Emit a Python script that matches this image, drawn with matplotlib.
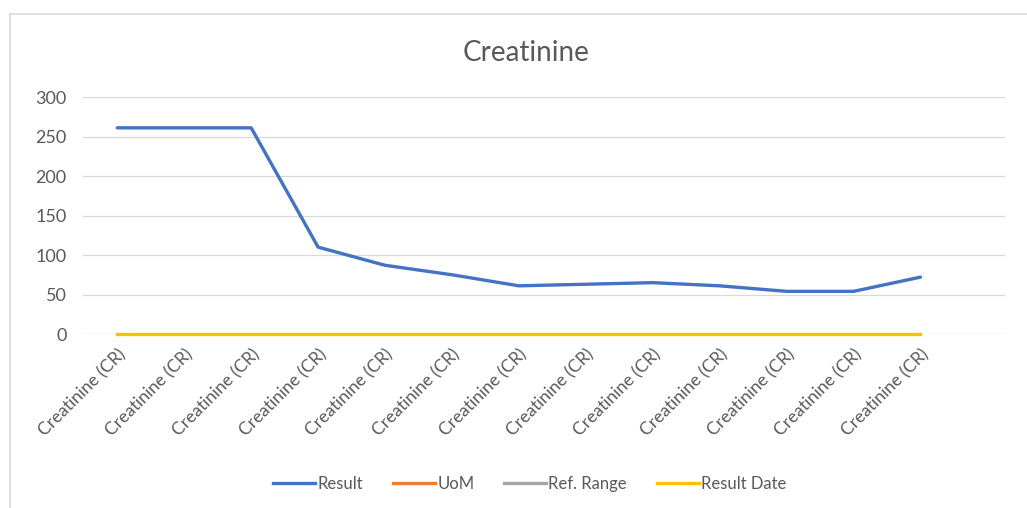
import numpy as np
import matplotlib.pyplot as plt
from matplotlib.lines import Line2D

plt.rcParams['font.family'] = ['Lato', 'DejaVu Sans']

categories = ['Creatinine (CR)'] * 13
result = [261, 261, 261, 110, 87, 75, 61, 63, 65, 61, 54, 54, 72]
uom = [np.nan] * 13
ref_range = [np.nan] * 13
result_date = [0] * 13

blue = '#4472C4'
orange = '#ED7D31'
gray = '#A5A5A5'
gold = '#FFC000'
text_col = '#595959'

fig = plt.figure(figsize=(10.27, 5.08), dpi=100)
ax = fig.add_axes([0.081, 0.3425, 0.898, 0.4665])

x = np.arange(len(categories))
ax.plot(x, result, color=blue, lw=2.4, label='Result', solid_capstyle='round')
ax.plot(x, uom, color=orange, lw=2.4, label='UoM')
ax.plot(x, ref_range, color=gray, lw=2.4, label='Ref. Range')
ax.plot(x, result_date, color=gold, lw=2.4, label='Result Date', zorder=3, clip_on=False)

ax.set_ylim(0, 300)
ax.set_yticks(range(0, 301, 50))
ax.set_xlim(-0.51, 13.27)
ax.set_xticks(x)
ax.set_xticklabels(categories, rotation=45, ha='right', rotation_mode='anchor',
                   fontsize=12.5, color=text_col)
ax.tick_params(axis='x', length=0, pad=9)
ax.tick_params(axis='y', length=0, pad=12, labelsize=13, labelcolor=text_col)

ax.grid(axis='y', color='#D9D9D9', lw=0.9)
ax.set_axisbelow(True)
for s in ax.spines.values():
    s.set_visible(False)

fig.text(0.512, 0.895, 'Creatinine', ha='center', va='center', fontsize=20, color=text_col)

handles = [Line2D([], [], color=c, lw=2.4) for c in (blue, orange, gray, gold)]
fig.legend(handles, ['Result', 'UoM', 'Ref. Range', 'Result Date'], loc='center',
           bbox_to_anchor=(0.516, 0.047), ncol=4, frameon=False, fontsize=12,
           labelcolor=text_col, handlelength=2.5, handletextpad=0.15, columnspacing=1.8)

# chart border (left and top)
fig.add_artist(Line2D([0.0097, 0.0097], [0, 0.972], color='#D9D9D9', lw=1.2, transform=fig.transFigure))
fig.add_artist(Line2D([0.0097, 1], [0.972, 0.972], color='#D9D9D9', lw=1.2, transform=fig.transFigure))

fig.savefig('out.png', dpi=100)
